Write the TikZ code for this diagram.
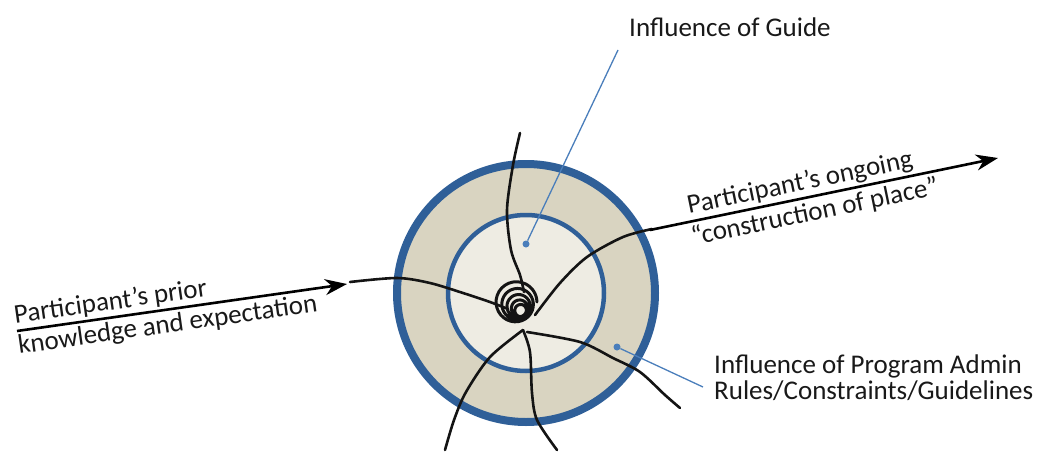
\documentclass[tikz,border=0pt]{standalone}
\usepackage{fontspec}
\setmainfont{Carlito}
\usetikzlibrary{arrows.meta}
\definecolor{ringBlue}{RGB}{47,95,152}
\definecolor{ringSand}{RGB}{217,212,193}
\definecolor{coreSand}{RGB}{238,236,227}
\definecolor{pointBlue}{RGB}{74,126,187}

\begin{document}
\begin{tikzpicture}[x=1pt,y=-1pt,
  strand/.style={line width=2.6pt, black!92, line cap=round, line join=round},
  journey/.style={line width=2.6pt, black, -{Stealth[length=22pt,width=16pt,inset=7pt]}},
  pointer/.style={line width=1.3pt, pointBlue},
  dot/.style={circle, fill=pointBlue, inner sep=0pt, minimum size=7pt},
  label/.style={font=\fontsize{27}{26}\selectfont, text=black!90, inner sep=0pt, align=left}]
\useasboundingbox (0,0) rectangle (1045,453);
\coordinate (centre) at (526,293);
\fill[ringSand] (centre) circle[radius=129];
\draw[ringBlue, line width=8pt] (centre) circle[radius=129];
\fill[coreSand] (centre) circle[radius=78];
\draw[ringBlue, line width=4.5pt] (centre) circle[radius=78];
\draw[strand] plot[smooth] coordinates {(520,133) (513,165) (507,210) (511,250) (520,275) (524,292)};
\draw[strand] plot[smooth] coordinates {(350,282) (397,278) (430,283) (463,293) (490,302) (508,309)};
\draw[strand] plot[smooth] coordinates {(523,330) (490,357) (466,392) (454,420) (445,450)};
\draw[strand] plot[smooth] coordinates {(523,330) (530,352) (532,393) (537,420) (557,450)};
\draw[strand] plot[smooth] coordinates {(527,332) (580,342) (613,358) (640,372) (665,395) (680,408)};
\draw[strand] plot[smooth] coordinates {(535,315) (560,283) (587,257) (623,237) (652,229)};
\draw[strand, line width=3pt] plot[smooth, domain=0:1800, samples=150]
  ({521-\x/300+(5+17*(\x/1800)^1.5)*cos(\x)}, {312-\x/180+(5+17*(\x/1800)^1.5)*sin(\x)});
\coordinate (priorStart) at (17,331);
\coordinate (priorTip) at (347,284);
\draw[journey] (priorStart) -- node[label, sloped, above=2pt, pos=0.29] (priorTop) {Participant’s prior}
  node[label, sloped, below=3pt, pos=0.45] (priorBottom) {knowledge and expectation} (priorTip);
\coordinate (placeStart) at (650,230);
\coordinate (placeTip) at (998,158);
\draw[journey] (placeStart) -- node[label, sloped, above=2pt, pos=0.44] (placeTop) {Participant’s ongoing}
  node[label, sloped, below=3pt, pos=0.465] (placeBottom) {“construction of place”} (placeTip);
\node[label, anchor=west] (guideLabel) at (629,27) {Influence of Guide};
\node[label, anchor=west] (adminLabel) at (714,378) {Influence of Program Admin\\Rules/Constraints/Guidelines};
\node[dot] (guideDot) at (526,244) {};
\node[dot] (adminDot) at (617,347) {};
\coordinate (guideEnd) at (618,50);
\coordinate (adminEnd) at (703,387);
\draw[pointer] (guideDot) -- (guideEnd);
\draw[pointer] (adminDot) -- (adminEnd);
\end{tikzpicture}
\end{document}
